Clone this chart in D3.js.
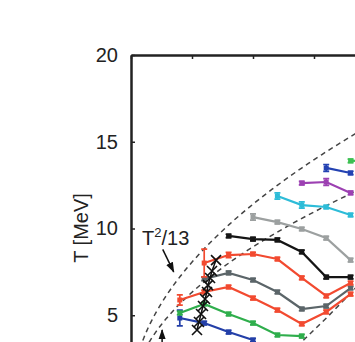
<!DOCTYPE html>
<html>
<head>
<meta charset="utf-8">
<script src="https://cdn.jsdelivr.net/npm/d3@7"></script>
<style>
  html, body { margin: 0; padding: 0; background: #fff; overflow: hidden; }
  svg { display: block; font-family: "Liberation Sans", Arial, sans-serif; }
</style>
</head>
<body>
<svg id="chart" width="355" height="342"></svg>
<script>
// ---- data ----
const yTicks = [5, 10, 15, 20];
const xTicks = [0, 5, 10, 15, 20, 25];

const xBlueLow = [4, 6, 8, 10];
const tBlueLow = [4.84, 4.55, 4.03, 3.57];
const eBlueLow = [0.45, 0.1, 0.1, 0.1];

const xGreenLow = [4, 6, 8, 10, 12, 14];
const tGreenLow = [5.13, 5.65, 5.07, 4.55, 3.86, 3.80];
const eGreenLow = [0.1, 0.1, 0.1, 0.1, 0.1, 0.1];

const xRedLow = [4, 6, 8, 10, 12, 14, 16, 18];
const tRedLow = [5.88, 6.34, 6.63, 5.99, 5.30, 4.50, 5.19, 6.22];
const eRedLow = [0.3, 0.1, 0.1, 0.1, 0.1, 0.1, 0.1, 0.1];

const xGreyDark = [6, 8, 10, 12, 14, 16, 18];
const tGreyDark = [7.1, 7.44, 7.03, 6.34, 5.36, 5.53, 6.57];
const eGreyDark = [0.1, 0.1, 0.1, 0.1, 0.1, 0.1, 0.1];

const xRedUp = [6, 8, 10, 12, 14, 16, 18];
const tRedUp = [8.01, 8.47, 8.53, 8.24, 7.15, 6.11, 6.86];
const eRedUp = [0.8, 0.15, 0.1, 0.1, 0.1, 0.1, 0.1];

const xBlack = [8, 10, 12, 14, 16, 18];
const tBlack = [9.57, 9.39, 9.34, 8.65, 7.2, 7.2];
const eBlack = [0.1, 0.1, 0.1, 0.1, 0.1, 0.1];

const xGreyLight = [10, 12, 14, 16, 18];
const tGreyLight = [10.66, 10.37, 9.97, 9.45, 8.18];
const eGreyLight = [0.18, 0.1, 0.1, 0.1, 0.1];

const xCyan = [12, 14, 16, 18];
const tCyan = [11.87, 11.35, 11.24, 10.78];
const eCyan = [0.18, 0.18, 0.1, 0.1];

const xPurple = [14, 16, 18];
const tPurple = [12.62, 12.68, 12.05];
const ePurple = [0.1, 0.2, 0.1];

const xBlueUp = [16, 18];
const tBlueUp = [13.49, 13.2];
const eBlueUp = [0.2, 0.1];

const xGreenUp = [18, 20];
const tGreenUp = [13.9, 13.9];
const eGreenUp = [0.1, 0.1];

// black crosses
const xCross = [5.41, 5.57, 5.74, 5.90, 6.07, 6.23, 6.31, 6.48, 6.64, 6.97];
const tCross = [4.15, 4.61, 5.07, 5.53, 5.94, 6.34, 6.74, 7.15, 7.55, 8.18];

// dashed guide curves: x = T^2 / a
const curveCoef = [13, 8];
// lower right dashed line
const xLowerDash = [13.6, 16.1, 18.8];
const tLowerDash = [3.2, 4.9, 6.85];

const series = [
    {x: xBlueLow, t: tBlueLow, e: eBlueLow, color: "#233fa8"},
    {x: xGreenLow, t: tGreenLow, e: eGreenLow, color: "#2fae4c"},
    {x: xRedLow, t: tRedLow, e: eRedLow, color: "#f24a30"},
    {x: xGreyDark, t: tGreyDark, e: eGreyDark, color: "#5b6569"},
    {x: xRedUp, t: tRedUp, e: eRedUp, color: "#f24a30"},
    {x: xBlack, t: tBlack, e: eBlack, color: "#151515"},
    {x: xGreyLight, t: tGreyLight, e: eGreyLight, color: "#9ca0a0"},
    {x: xCyan, t: tCyan, e: eCyan, color: "#2dbcd8"},
    {x: xPurple, t: tPurple, e: ePurple, color: "#9c40b2"},
    {x: xBlueUp, t: tBlueUp, e: eBlueUp, color: "#2342b2"},
    {x: xGreenUp, t: tGreenUp, e: eGreenUp, color: "#3cc052"}
];

// ---- scales ----
const x = d3.scaleLinear().domain([0, 30]).range([131, 497]);
const y = d3.scaleLinear().domain([0, 20]).range([402, 55]);

const svg = d3.select("#chart");

// 虚线曲线
const line = d3.line().x(d => x(d[0])).y(d => y(d[1]));
const tSamples = d3.range(0, 20.01, 0.25);
curveCoef.forEach(a => {
    svg.append("path")
        .attr("d", line(tSamples.map(t => [t * t / a, t])))
        .attr("fill", "none")
        .attr("stroke", "#444")
        .attr("stroke-width", 1.5)
        .attr("stroke-dasharray", "5,4");
});
svg.append("path")
    .attr("d", line(xLowerDash.map((v, i) => [v, tLowerDash[i]])))
    .attr("fill", "none")
    .attr("stroke", "#444")
    .attr("stroke-width", 1.5)
    .attr("stroke-dasharray", "5,4");

// 数据系列
series.forEach(s => {
    let pts = s.x.map((v, i) => ({x: v, t: s.t[i], e: s.e[i]}));
    let g = svg.append("g");
    g.append("path")
        .attr("d", line(pts.map(p => [p.x, p.t])))
        .attr("fill", "none")
        .attr("stroke", s.color)
        .attr("stroke-width", 2.2);
    // error bars
    g.selectAll(".eb").data(pts).enter().append("path")
        .attr("d", p => {
            let px = x(p.x), y1 = y(p.t + p.e), y2 = y(p.t - p.e);
            return "M" + px + "," + y1 + "V" + y2 +
                "M" + (px - 3) + "," + y1 + "H" + (px + 3) +
                "M" + (px - 3) + "," + y2 + "H" + (px + 3);
        })
        .attr("stroke", s.color)
        .attr("stroke-width", 1.7)
        .attr("fill", "none");
    g.selectAll("rect").data(pts).enter().append("rect")
        .attr("x", p => x(p.x) - 2.5)
        .attr("y", p => y(p.t) - 2.5)
        .attr("width", 5)
        .attr("height", 5)
        .attr("fill", s.color);
});

// 叉号
let crossPts = xCross.map((v, i) => [v, tCross[i]]);
svg.append("path")
    .attr("d", line(crossPts))
    .attr("fill", "none")
    .attr("stroke", "#111")
    .attr("stroke-width", 1.5);
svg.selectAll(".cross").data(crossPts).enter().append("path")
    .attr("d", d => {
        let px = x(d[0]), py = y(d[1]), r = 5;
        return "M" + (px - r) + "," + (py - r) + "L" + (px + r) + "," + (py + r) +
            "M" + (px - r) + "," + (py + r) + "L" + (px + r) + "," + (py - r);
    })
    .attr("stroke", "#111")
    .attr("stroke-width", 1.6);

// 坐标轴
let yAxis = d3.axisLeft(y).tickValues(yTicks).tickSizeInner(-4).tickSizeOuter(0).tickPadding(13);
let gy = svg.append("g").attr("transform", "translate(131,0)").call(yAxis);
gy.select(".domain").attr("stroke", "#222").attr("stroke-width", 2.5);
gy.selectAll(".tick line").attr("stroke", "#222").attr("stroke-width", 1.5);
gy.selectAll(".tick text")
    .attr("font-size", 20)
    .attr("font-family", "Liberation Sans, Arial, sans-serif")
    .attr("fill", "#222");

let xAxis = d3.axisTop(x).tickValues(xTicks).tickSizeInner(-4).tickSizeOuter(0).tickFormat("");
let gx = svg.append("g").attr("transform", "translate(0,55)").call(xAxis);
gx.select(".domain").attr("stroke", "#222").attr("stroke-width", 2.5);
gx.selectAll(".tick line").attr("stroke", "#222").attr("stroke-width", 1.5);

// 轴标题
svg.append("text")
    .attr("transform", "translate(88,228) rotate(-90)")
    .attr("text-anchor", "middle")
    .attr("font-size", 20)
    .attr("fill", "#222")
    .text("T [MeV]");

// 标注 T²/13
let lab = svg.append("text")
    .attr("x", 142)
    .attr("y", 245)
    .attr("font-size", 20)
    .attr("fill", "#222");
lab.append("tspan").text("T");
lab.append("tspan").attr("dy", -8).attr("font-size", 13).text("2");
lab.append("tspan").attr("dy", 8).text("/13");

svg.append("defs").append("marker")
    .attr("id", "ah")
    .attr("viewBox", "0 0 10 10")
    .attr("refX", 9).attr("refY", 5)
    .attr("markerWidth", 7).attr("markerHeight", 7)
    .attr("orient", "auto")
    .append("path")
    .attr("d", "M0,1.5L10,5L0,8.5Z")
    .attr("fill", "#111");

svg.append("line")
    .attr("x1", x(2.6)).attr("y1", y(8.8))
    .attr("x2", x(3.5)).attr("y2", y(7.5))
    .attr("stroke", "#111").attr("stroke-width", 1.5)
    .attr("marker-end", "url(#ah)");

svg.append("line")
    .attr("x1", x(2.55)).attr("y1", y(3.2))
    .attr("x2", x(2.55)).attr("y2", y(4.15))
    .attr("stroke", "#111").attr("stroke-width", 1.5)
    .attr("marker-end", "url(#ah)");
</script>
</body>
</html>
